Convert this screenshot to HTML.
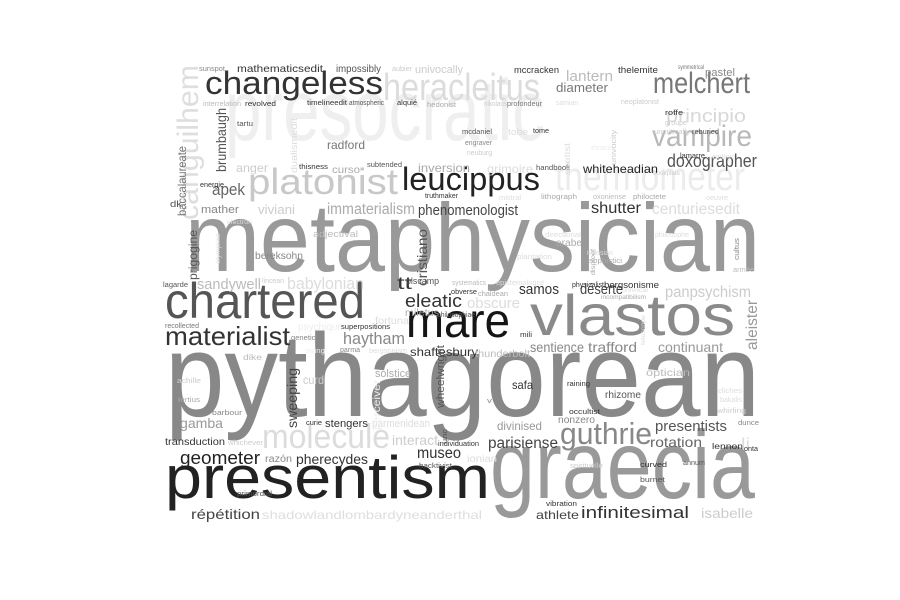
<!DOCTYPE html>
<html><head><meta charset="utf-8"><style>
html,body{margin:0;padding:0;background:#fff;}
svg{display:block;}
text{font-family:"Liberation Sans",sans-serif;}
</style></head><body>
<svg id="cloud" width="900" height="600" viewBox="0 0 900 600"></svg>
<script>
// [word, x, baselineY, fontSize, width, color, vertical]
const words = [
["presocratic",225,140,100,320,"#efefef",0],
["canguilhem",198,220,34,155,"#dedede",1],
["heracleitus",383,100,44,157,"#dcdcdc",0],
["thermometer",555,190,46,190,"#ececec",0],
["metaphysician",185,271,112,575,"#999",0],
["pythagorean",165,416,137,595,"#888",0],
["graecia",490,498,112,265,"#999",0],
["presentism",165,498,70,325,"#222",0],
["vlastos",530,335,67,205,"#8a8a8a",0],
["mare",406,337,56,104,"#151515",0],
["chartered",165,318,58,200,"#555",0],
["changeless",205,94,38,178,"#333",0],
["melchert",653,93,34,97,"#777",0],
["platonist",248,194,42,150,"#c8c8c8",0],
["leucippus",402,190,38,138,"#222",0],
["vampire",652,146,34,100,"#b8b8b8",0],
["doxographer",667,167,22,90,"#555",0],
["principio",666,122,22,80,"#d8d8d8",0],
["molecule",262,448,40,128,"#dcdcdc",0],
["materialist",165,345,30,125,"#333",0],
["guthrie",560,444,36,92,"#888",0],
["geometer",180,464,22,80,"#222",0],
["pherecydes",296,464,16,72,"#333",0],
["museo",417,458,18,44,"#333",0],
["parisiense",488,448,18,70,"#444",0],
["rotation",650,447,16,52,"#666",0],
["presentists",655,431,17,72,"#555",0],
["infinitesimal",581,518,19,108,"#333",0],
["athlete",536,519,14,43,"#444",0],
["isabelle",701,518,16,52,"#ccc",0],
["répétition",191,519,16,69,"#444",0],
["shadowlandlombardyneanderthal",262,519,14,220,"#dedede",0],
["haytham",343,344,19,62,"#888",0],
["shaftesbury",410,356,14,68,"#333",0],
["thunderbolt",475,357,12,55,"#bbb",0],
["eleatic",405,307,22,57,"#333",0],
["samos",519,294,17,40,"#333",0],
["déserte",580,294,17,43,"#444",0],
["panpsychism",665,297,18,86,"#ccc",0],
["sandywell",197,289,17,64,"#bbb",0],
["babylonian",287,289,19,77,"#dcdcdc",0],
["immaterialism",327,214,18,88,"#aaa",0],
["phenomenologist",418,215,17,100,"#444",0],
["shutter",591,213,18,50,"#333",0],
["centuriesedit",652,214,18,88,"#dcdcdc",0],
["viviani",258,214,15,37,"#ccc",0],
["mather",201,213,13,38,"#888",0],
["apek",212,195,19,33,"#666",0],
["radford",327,149,14,38,"#777",0],
["lantern",566,81,17,47,"#bbb",0],
["mccracken",514,73,11,45,"#333",0],
["thelemite",618,73,11,40,"#333",0],
["pastel",705,76,13,30,"#888",0],
["diameter",556,92,15,52,"#777",0],
["mathematicsedit",237,72,12,86,"#333",0],
["impossibly",336,72,12,45,"#555",0],
["univocally",415,73,13,48,"#ccc",0],
["sunspot",199,71,8,26,"#888",0],
["aubier",392,71,8,20,"#ccc",0],
["symmetrical",678,69,7,26,"#777",0],
["interrelation",203,106,8,38,"#bbb",0],
["revolved",245,106,9,31,"#333",0],
["timelineedit",307,105,8,40,"#333",0],
["atmospheric",349,105,8,35,"#555",0],
["alquié",397,105,8,20,"#333",0],
["hedonist",427,107,9,29,"#aaa",0],
["nikolaos",484,106,8,23,"#ccc",0],
["profondeur",507,106,8,35,"#777",0],
["samian",556,105,8,22,"#ddd",0],
["neoplatonist",621,104,8,38,"#ccc",0],
["roffe",665,115,9,18,"#333",0],
["groupe",665,125,8,22,"#ccc",0],
["uncritically",654,134,8,36,"#ccc",0],
["reburied",692,134,8,27,"#555",0],
["tartu",237,126,8,16,"#555",0],
["mcdaniel",462,134,9,30,"#555",0],
["engraver",465,145,8,27,"#888",0],
["neuburg",467,155,8,25,"#ccc",0],
["tobe",508,135,11,20,"#ddd",0],
["tome",533,133,8,16,"#333",0],
["lamarre",680,158,8,25,"#333",0],
["embryo",712,159,8,23,"#ddd",0],
["arc",410,134,8,11,"#eee",0],
["thrace",591,150,8,21,"#eee",0],
["anger",236,172,14,32,"#ccc",0],
["thisness",299,169,9,29,"#333",0],
["curso",332,173,12,28,"#aaa",0],
["subtended",367,167,9,35,"#555",0],
["inversion",418,172,14,52,"#aaa",0],
["grimoire",487,173,14,46,"#ddd",0],
["handbook",536,170,9,34,"#555",0],
["whiteheadian",583,173,14,75,"#222",0],
["bookplate",653,175,7,27,"#ccc",0],
["energie",200,187,8,24,"#333",0],
["dk",170,207,11,12,"#555",0],
["truthmaker",425,198,8,33,"#333",0],
["mistral",499,200,8,22,"#ddd",0],
["lithograph",541,199,8,36,"#aaa",0],
["oxoniense",593,199,8,33,"#bbb",0],
["philoctete",633,199,8,33,"#aaa",0],
["oeuvre",706,200,8,22,"#ddd",0],
["electron",227,224,7,25,"#ddd",0],
["adjectival",313,237,11,45,"#bbb",0],
["bereksohn",255,259,12,48,"#888",0],
["directional",545,237,8,36,"#ddd",0],
["arabe",556,246,12,26,"#aaa",0],
["philosophe",655,237,8,34,"#ddd",0],
["plantation",517,259,8,35,"#ddd",0],
["milesian",587,255,8,26,"#ddd",0],
["sophistici",589,263,8,33,"#aaa",0],
["lagarde",163,287,8,25,"#555",0],
["lincean",262,283,8,22,"#ccc",0],
["tt",397,289,20,15,"#333",0],
["olscamp",406,284,11,33,"#555",0],
["systematics",452,285,8,34,"#bbb",0],
["epistemologist",496,285,8,48,"#ddd",0],
["physicalist",572,287,8,32,"#333",0],
["bergsonisme",604,288,11,55,"#333",0],
["armée",733,272,8,21,"#bbb",0],
["obverse",451,294,8,26,"#333",0],
["chaldean",478,296,8,30,"#aaa",0],
["univocal",622,292,7,26,"#ddd",0],
["incompatibilism",601,299,7,45,"#aaa",0],
["miletus",405,316,12,34,"#aaa",0],
["philosophiae",437,317,8,38,"#555",0],
["obscure",467,308,17,53,"#ddd",0],
["fortuna",375,324,12,34,"#ddd",0],
["recollected",165,328,8,34,"#777",0],
["psychique",298,330,12,45,"#eee",0],
["superpositions",341,329,8,49,"#333",0],
["mili",520,337,8,12,"#333",0],
["geneticist",291,340,8,32,"#888",0],
["swing",305,353,8,20,"#eee",0],
["parma",340,352,8,20,"#888",0],
["bergsonism",369,353,8,38,"#ddd",0],
["sentience",530,352,16,54,"#888",0],
["trafford",588,352,16,49,"#888",0],
["continuant",658,352,16,65,"#999",0],
["dike",243,360,10,19,"#bbb",0],
["solstice",375,377,13,36,"#aaa",0],
["curd",303,384,14,21,"#ccc",0],
["optician",646,376,12,44,"#bbb",0],
["achille",177,383,8,24,"#ccc",0],
["safa",512,389,14,21,"#333",0],
["raining",567,386,8,23,"#333",0],
["rhizome",605,398,12,36,"#555",0],
["cliches",718,393,8,24,"#ddd",0],
["bakalis",720,402,8,22,"#ddd",0],
["tertius",178,402,8,22,"#aaa",0],
["v",487,403,9,5,"#888",0],
["occultist",569,414,8,31,"#333",0],
["whirling",717,413,8,29,"#ccc",0],
["barbour",212,415,9,30,"#888",0],
["gamba",180,428,16,43,"#999",0],
["curie",306,425,8,16,"#333",0],
["stengers",325,427,13,43,"#333",0],
["parmenidean",372,427,13,58,"#ddd",0],
["divinised",497,430,14,45,"#999",0],
["nonzero",558,423,12,37,"#888",0],
["dunce",738,425,8,21,"#888",0],
["transduction",165,445,12,60,"#333",0],
["whichever",228,445,8,35,"#ccc",0],
["interact",392,445,16,46,"#ccc",0],
["individuation",438,446,8,41,"#333",0],
["lennon",712,449,10,31,"#333",0],
["li",741,449,18,9,"#ddd",0],
["onta",744,451,8,14,"#333",0],
["razón",265,462,12,27,"#888",0],
["hacktivist",419,468,8,33,"#555",0],
["ionian",467,462,12,30,"#ddd",0],
["spirituelle",570,468,8,33,"#ccc",0],
["curved",640,467,9,27,"#333",0],
["annum",683,465,8,22,"#555",0],
["burnet",640,482,8,25,"#555",0],
["primordial",237,496,8,35,"#555",0],
["vibration",546,506,8,31,"#333",0],
["brumbaugh",226,172,16,64,"#555",1],
["baccalaureate",186,216,14,70,"#777",1],
["dualismedit",297,173,11,55,"#ddd",1],
["cristiano",427,286,16,57,"#555",1],
["prigogine",197,280,14,50,"#555",1],
["aleister",757,350,18,50,"#999",1],
["sweeping",297,428,16,60,"#444",1],
["wheelwright",444,408,13,63,"#555",1],
["perceiver",380,430,12,50,"#eee",1],
["unc",447,444,8,15,"#555",1],
["telescope",645,345,7,30,"#ddd",1],
["scotist",570,175,10,32,"#ddd",1],
["univocity",616,165,8,35,"#ccc",1],
["disproof",595,275,7,26,"#aaa",1],
["cultus",739,260,9,22,"#888",1],
["olympiad",220,264,7,30,"#ddd",1]
];
const SIZE_SCALE = 0.86;
const svg = document.getElementById('cloud');
const NS = 'http://www.w3.org/2000/svg';
for (const w of words) {
  const el = document.createElementNS(NS, 'text');
  el.textContent = w[0];
  el.setAttribute('font-size', (w[3] * SIZE_SCALE).toFixed(1));
  el.setAttribute('fill', w[5]);
  el.setAttribute('textLength', w[4]);
  el.setAttribute('lengthAdjust', 'spacingAndGlyphs');
  if (w[6]) {
    el.setAttribute('x', 0);
    el.setAttribute('y', 0);
    el.setAttribute('transform', 'translate(' + w[1] + ',' + w[2] + ') rotate(-90)');
  } else {
    el.setAttribute('x', w[1]);
    el.setAttribute('y', w[2]);
  }
  
  
  svg.appendChild(el);
}
</script>
</body></html>
